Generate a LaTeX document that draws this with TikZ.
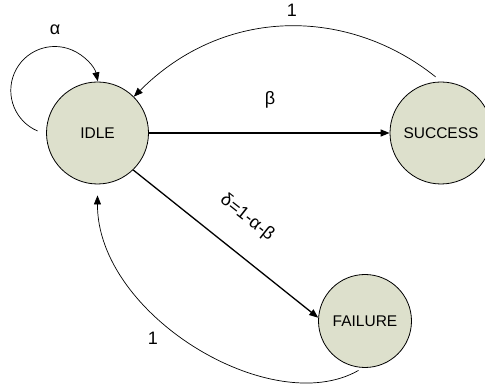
\documentclass[tikz,border=0pt]{standalone}
\usepackage{fontspec}
\setmainfont{Liberation Sans}
\usetikzlibrary{arrows.meta}
\definecolor{statefill}{RGB}{221,224,204}
\tikzset{
  state/.style={circle, draw=black, line width=0.8pt, fill=statefill, inner sep=0pt, font=\fontsize{15.5}{18}\selectfont},
  thinedge/.style={line width=0.7pt, -{Triangle[length=9pt,width=7pt]}},
  thickedge/.style={line width=1.3pt, -{Triangle[length=9pt,width=7pt]}},
  lbl/.style={font=\fontsize{18}{21}\selectfont, inner sep=0pt}
}
\begin{document}
\begin{tikzpicture}[x=1pt,y=1pt]
\useasboundingbox (0,0) rectangle (485,388);
\node[state, minimum size=102pt] (idle) at (97.5,255) {IDLE};
\node[state, minimum size=102pt] (success) at (441,255) {SUCCESS};
\node[state, minimum size=93pt] (failure) at (365,67) {FAILURE};

% self loop
\draw[thinedge] ([xshift=-8.5pt,yshift=2pt]idle.west) arc[start angle=247, end angle=12, radius=44];
\node[lbl] (la) at (55,358) {α};

% success -> idle
\draw[thinedge] ([yshift=5pt]success.96) .. controls (349.5,380.2) and (225.5,382.9) .. (idle.45);
\node[lbl] (l1a) at (292,378) {1};

% idle -> success
\draw[thickedge] (idle.east) -- (success.west);
\node[lbl] (lb) at (270,288) {β};

% idle -> failure
\draw[thickedge] (idle.314) -- (failure.176);
\node[lbl, rotate=-38.4] (ld) at (247,170) {δ=1-α-β};

% failure -> idle
\draw[thinedge] ([yshift=-3pt]failure.262) .. controls (271.4,-32) and (97,73) .. ([yshift=-11pt]idle.south);
\node[lbl] (l1b) at (153,50) {1};
\end{tikzpicture}
\end{document}
